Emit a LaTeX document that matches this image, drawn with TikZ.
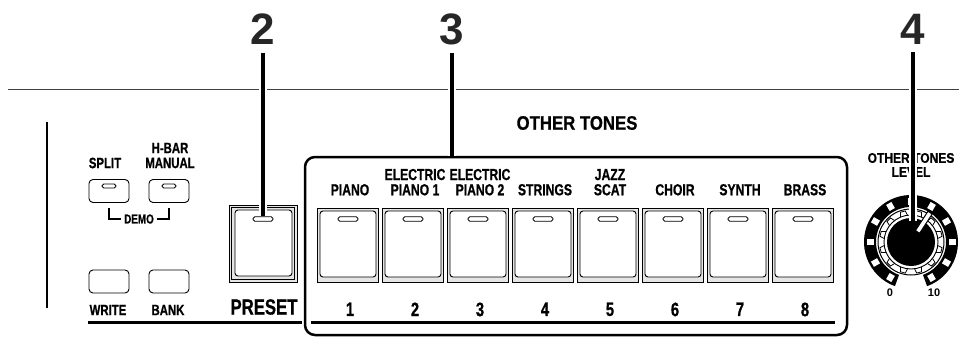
\documentclass[tikz,border=0pt]{standalone}
\usepackage{fontspec}
\setmainfont{Liberation Sans}
\newfontfamily\condfont[FakeStretch=0.76, BoldFeatures={FakeBold=0.7}]{Liberation Sans}
\newfontfamily\semifont[FakeStretch=0.86, BoldFeatures={FakeBold=0.7}]{Liberation Sans}
\usetikzlibrary{positioning}

\begin{document}
\begin{tikzpicture}[x=1pt, y=-1pt,
        tonekey/.style={draw=black, line width=0.7pt, fill=black!10,
                        minimum width=61pt, minimum height=74pt, inner sep=0pt},
        keycap/.style={draw=black, line width=0.9pt, fill=white, rounded corners=3pt,
                       minimum width=56pt, minimum height=66pt, inner sep=0pt},
        led/.style={draw=black, line width=0.9pt, fill=white, rounded corners=1.8pt,
                    minimum width=20pt, minimum height=4.5pt, inner sep=0pt},
        smallbtn/.style={draw=black, line width=0.9pt, fill=white, rounded corners=4pt,
                         minimum width=40pt, minimum height=23pt, inner sep=0pt},
        keylbl/.style={font=\condfont\bfseries\fontsize{16}{16}\selectfont, inner sep=0pt},
        keynum/.style={font=\condfont\bfseries\fontsize{19.5}{19.5}\selectfont, inner sep=0pt},
        btnlbl/.style={font=\condfont\bfseries\fontsize{15}{15}\selectfont, inner sep=0pt},
        knoblbl/.style={font=\semifont\bfseries\fontsize{14}{14}\selectfont, inner sep=0pt},
        callnum/.style={font=\bfseries\fontsize{44}{44}\selectfont, text=black!85, inner sep=0pt},
        callout/.style={line width=3.5pt, preaction={draw=white, line width=8pt}},
      ]
      \useasboundingbox (0,0) rectangle (959,340);

      % panel edges
      \draw[line width=1.3pt, black!75] (8,89.5) -- (959,89.5);
      \draw[line width=2pt] (47,122) -- (47,308);

      % left buttons
      \node[smallbtn] (split) at (109,191) {};
      \node[smallbtn] (hbar)  at (169,191) {};
      \node[smallbtn] (write) at (109,281.5) {};
      \node[smallbtn] (bank)  at (169,281.5) {};
      \node[led, minimum width=14pt, minimum height=4pt] at ([yshift=5pt]split.center) {};
      \node[led, minimum width=14pt, minimum height=4pt] at ([yshift=5pt]hbar.center) {};
      \node[btnlbl] at (105,163) {SPLIT};
      \node[btnlbl] at (170,148) {H-BAR};
      \node[btnlbl] at (170,163) {MANUAL};
      \node[btnlbl] at (108,310) {WRITE};
      \node[btnlbl] at (168,310) {BANK};
      \node[font=\condfont\bfseries\fontsize{13}{13}\selectfont, inner sep=2.5pt] (demo) at (139,219) {DEMO};
      \draw[line width=1.1pt] ([yshift=-5pt]split.south) |- (demo.west);
      \draw[line width=1.1pt] (demo.east) -| ([yshift=-5pt]hbar.south);

      % preset
      \node[tonekey, minimum width=68pt, minimum height=77pt] (preset) at (263,243.5) {};
      \node[draw, line width=0.7pt, minimum width=63pt, minimum height=72pt] at (preset.center) {};
      \node[keycap, minimum width=57pt] at (263.5,243) {};
      \node[led] (pled) at (263,219) {};
      \node[font=\condfont\bfseries\fontsize{22}{22}\selectfont, inner sep=0pt] at (264,307) {PRESET};
      \draw[line width=3pt] (88,322) -- (302,322);

      % other tones
      \node[draw, line width=2.5pt, rounded corners=10pt,
            minimum width=542pt, minimum height=178pt] (tones) at (576,246) {};
      \draw[line width=3pt] (311,322) -- (835,322);
      \node[font=\semifont\bfseries\fontsize{19.5}{19.5}\selectfont, inner sep=0pt] at (577,123) {OTHER TONES};
      \foreach \i/\hi/\lo in {1/{}/PIANO, 2/ELECTRIC/PIANO 1, 3/ELECTRIC/PIANO 2, 4/{}/STRINGS,
                              5/JAZZ/SCAT, 6/{}/CHOIR, 7/{}/SYNTH, 8/{}/BRASS}{
        \node[tonekey] (k\i) at ({348+65*(\i-1)},245) {};
        \node[keycap] at ([yshift=1pt]k\i.center) {};
        \node[led] at ([yshift=26pt]k\i.center) {};
        \node[keylbl, above=12pt of k\i, xshift=2pt] (lo\i) {\lo};
        \node[keylbl, above=3.5pt of lo\i] {\hi};
        \node[keynum, below=20pt of k\i, xshift=2pt] {\i};
      }

      % level knob
      \coordinate (knob) at (911,242);
      \begin{scope}[shift={(knob)}, y=1pt]
        \fill (-70:47) arc[start angle=-70, end angle=250, radius=47]
              -- (250:35) arc[start angle=250, end angle=-70, radius=35] -- cycle;
        \foreach \a in {-60,-30,...,240}
          \fill[white, rotate=\a] (37.5,-3) rectangle (44.5,3);
        \draw[line width=1pt, fill=white] (0,0) circle (33);
        \draw[line width=0.9pt] (0,0) circle (27);
        \foreach \a in {15,45,...,345}
          \draw[line width=0.8pt, rotate=\a] (27,-3.5) -- (31.5,-2.5) -- (31.5,2.5) -- (27,3.5);
        \fill (0,0) circle (24);
        \draw[line width=1pt, fill=white, rotate=57] (12,-2.5) rectangle (35,2.5);
      \end{scope}
      \node[knoblbl] at (911,158) {OTHER TONES};
      \node[knoblbl] at (911,172) {LEVEL};
      \node[font=\bfseries\fontsize{11}{11}\selectfont, inner sep=0pt] at (890,293) {0};
      \node[font=\bfseries\fontsize{11}{11}\selectfont, inner sep=0pt] at (934,293) {10};
      \coordinate (kend) at (913,221);

      % callouts
      \node[callnum] (n2) at (263,29) {2};
      \node[callnum] (n3) at (452,29) {3};
      \node[callnum] (n4) at (913,29) {4};
      \draw[callout] ([yshift=-8pt]n2.south) -- (pled.north);
      \draw[callout] ([yshift=-8pt]n3.south) -- (n3 |- tones.north);
      \draw[callout] ([yshift=-8pt]n4.south) -- (kend);
    \end{tikzpicture}
\end{document}
